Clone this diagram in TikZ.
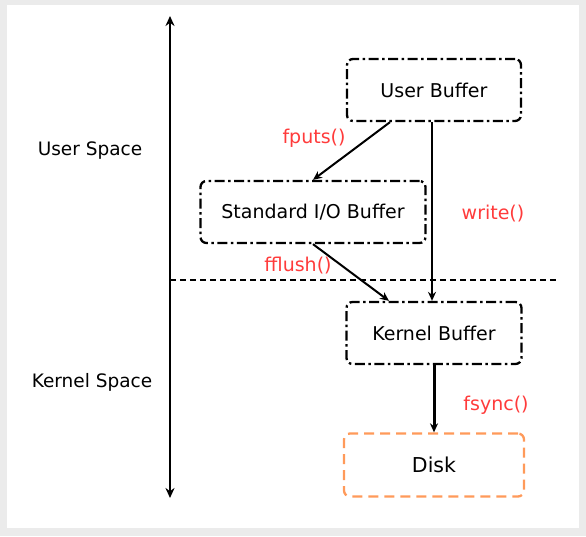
\documentclass[tikz,border=0pt]{standalone}
\usepackage{fontspec}
\setmainfont{DejaVu Sans}
\usetikzlibrary{arrows.meta}
\definecolor{bgray}{HTML}{EBEBEB}
\definecolor{lblred}{HTML}{FF3B3B}
\definecolor{diskorange}{HTML}{FF9A5A}
\tikzset{
  bufbox/.style={draw, line width=2.3pt, rounded corners=6pt, dash pattern=on 10pt off 3.5pt on 2.5pt off 3.5pt, minimum height=62pt, font=\fontsize{19}{22}\selectfont},
  diskbox/.style={draw=diskorange, line width=2.3pt, rounded corners=6pt, dash pattern=on 10pt off 6pt, minimum height=63pt, minimum width=180pt, font=\fontsize{20.5}{24}\selectfont},
  lbl/.style={text=lblred, font=\fontsize{19}{22}\selectfont},
  side/.style={font=\fontsize{18.5}{22}\selectfont},
  flow/.style={-{Stealth[length=9pt,width=8pt]}, line width=2pt},
}
\begin{document}
\begin{tikzpicture}[x=1pt,y=-1pt]
\useasboundingbox (0,0) rectangle (586,536);
\fill[bgray] (0,0) rectangle (586,536);
\fill[white] (7,5) rectangle (579,528);
% axis
\coordinate (axtop) at (170,16);
\coordinate (axbot) at (170,498);
\draw[{Stealth[length=10pt,width=9pt]}-{Stealth[length=10pt,width=9pt]}, line width=1.8pt] (axtop) -- (axbot);
\coordinate (dl) at (170,280);
\coordinate (dr) at (557,280);
\draw[line width=1.4pt, dash pattern=on 6pt off 4pt] (dl) -- (dr);
\node[side] (us) at (90,151) {User Space};
\node[side] (ks) at (92,382) {Kernel Space};
% boxes
\node[bufbox, minimum width=174pt] (ub) at (434,90) {User Buffer};
\node[bufbox, minimum width=225pt] (sb) at (313,212) {Standard I/O Buffer};
\node[bufbox, minimum width=175pt] (kb) at (434,333) {Kernel Buffer};
\node[diskbox] (dk) at (434,465) {Disk};
% arrows
\draw[flow] (ub.south west -| 390,0) -- (sb.north);
\draw[flow] (ub.south -| 432,0) -- (kb.north -| 432,0);
\draw[flow] (sb.south) -- (kb.north -| 389,0);
\draw[flow, line width=3pt] (kb.south) -- (dk.north);
% labels
\node[lbl] (l1) at (314,138) {fputs()};
\node[lbl] (l2) at (493,214) {write()};
\node[lbl] (l3) at (298,266) {fflush()};
\node[lbl] (l4) at (496,405) {fsync()};
\end{tikzpicture}
\end{document}
